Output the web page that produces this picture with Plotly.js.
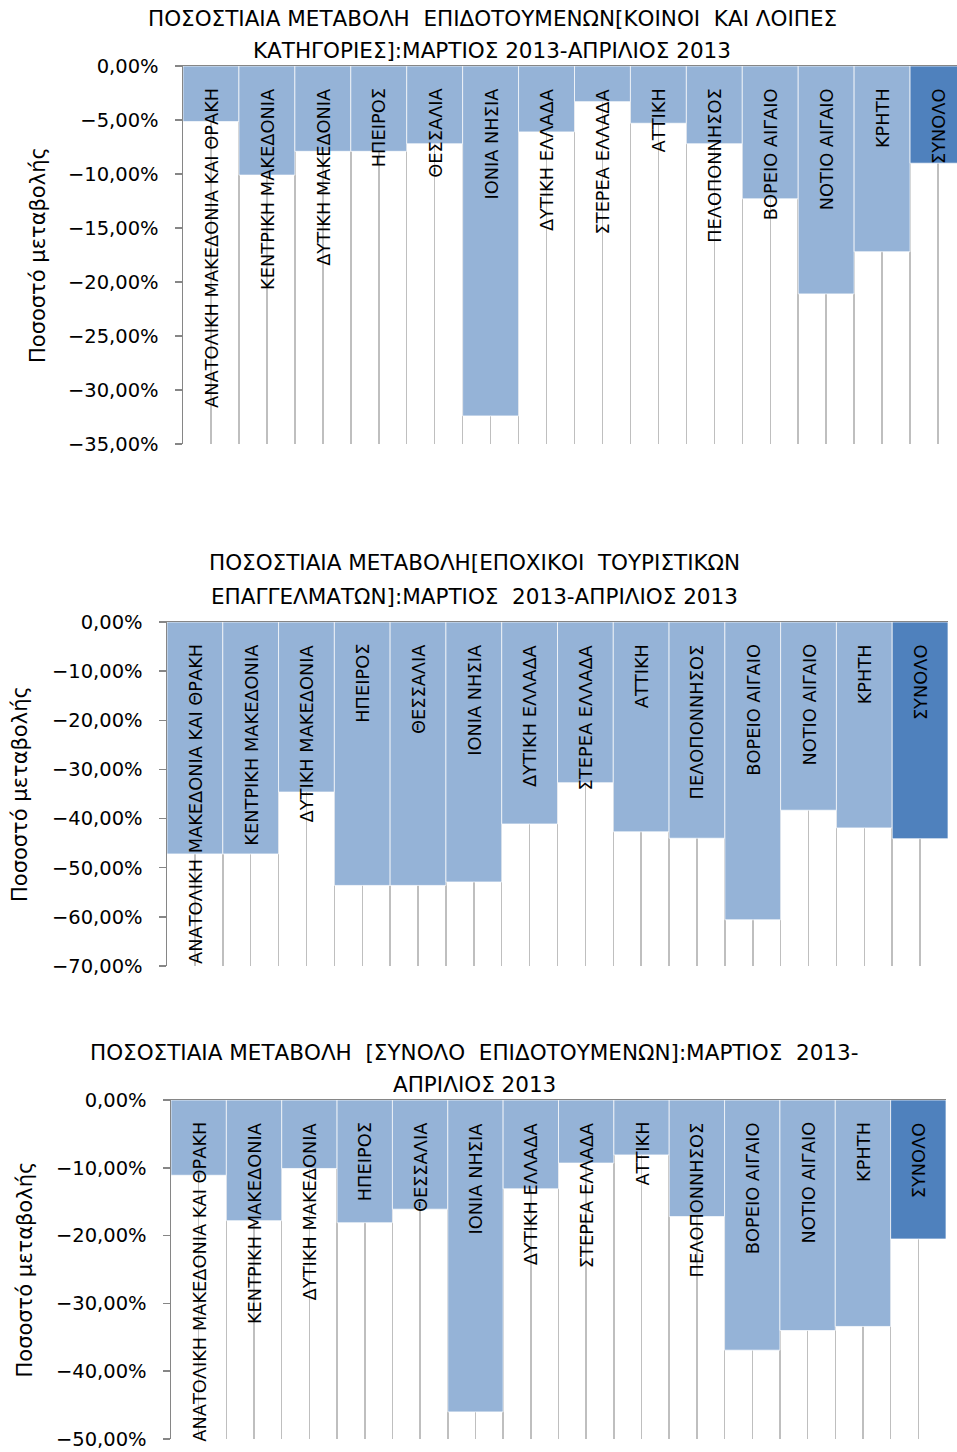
<!DOCTYPE html>
<html><head><meta charset="utf-8">
<script src="https://cdn.plot.ly/plotly-3.0.1.min.js"></script>
<style>
body{margin:0;background:#fff;width:957px;height:1452px;overflow:hidden;position:relative}
.c{position:absolute;left:0}
</style></head><body>
<div id="c1" class="c" style="top:0;width:985px;height:480px"></div>
<div id="c2" class="c" style="top:500px;width:957px;height:500px"></div>
<div id="c3" class="c" style="top:1000px;width:957px;height:452px"></div>
<script>
const categories = ['ΑΝΑΤΟΛΙΚΗ ΜΑΚΕΔΟΝΙΑ ΚΑΙ ΘΡΑΚΗ','ΚΕΝΤΡΙΚΗ ΜΑΚΕΔΟΝΙΑ','ΔΥΤΙΚΗ ΜΑΚΕΔΟΝΙΑ','ΗΠΕΙΡΟΣ','ΘΕΣΣΑΛΙΑ','ΙΟΝΙΑ ΝΗΣΙΑ','ΔΥΤΙΚΗ ΕΛΛΑΔΑ','ΣΤΕΡΕΑ ΕΛΛΑΔΑ','ΑΤΤΙΚΗ','ΠΕΛΟΠΟΝΝΗΣΟΣ','ΒΟΡΕΙΟ ΑΙΓΑΙΟ','ΝΟΤΙΟ ΑΙΓΑΙΟ','ΚΡΗΤΗ','ΣΥΝΟΛΟ'];
// percentage change (%)
const valuesRegular  = [-5.15,-10.1,-7.9,-7.9,-7.2,-32.4,-6.1,-3.3,-5.3,-7.2,-12.3,-21.1,-17.2,-9.0];
const valuesSeasonal = [-47.2,-47.2,-34.6,-53.6,-53.6,-52.9,-41.1,-32.7,-42.7,-44.0,-60.6,-38.3,-41.9,-44.1];
const valuesTotal    = [-11.1,-17.8,-10.1,-18.1,-16.1,-46.0,-13.1,-9.3,-8.1,-17.2,-36.9,-34.0,-33.4,-20.5];
const title1 = ['ΠΟΣΟΣΤΙΑΙΑ ΜΕΤΑΒΟΛΗ  ΕΠΙΔΟΤΟΥΜΕΝΩΝ[ΚΟΙΝΟΙ  ΚΑΙ ΛΟΙΠΕΣ','ΚΑΤΗΓΟΡΙΕΣ]:ΜΑΡΤΙΟΣ 2013-ΑΠΡΙΛΙΟΣ 2013'];
const title2 = ['ΠΟΣΟΣΤΙΑΙΑ ΜΕΤΑΒΟΛΗ[ΕΠΟΧΙΚΟΙ  ΤΟΥΡΙΣΤΙΚΩΝ','ΕΠΑΓΓΕΛΜΑΤΩΝ]:ΜΑΡΤΙΟΣ  2013-ΑΠΡΙΛΙΟΣ 2013'];
const title3 = ['ΠΟΣΟΣΤΙΑΙΑ ΜΕΤΑΒΟΛΗ  [ΣΥΝΟΛΟ  ΕΠΙΔΟΤΟΥΜΕΝΩΝ]:ΜΑΡΤΙΟΣ  2013-','ΑΠΡΙΛΙΟΣ 2013'];
const yTitle = 'Ποσοστό μεταβολής';

const FONT = 'DejaVu Sans, sans-serif';
const LIGHT = '#95B3D7', DARK = '#4F81BD';

function draw(id, vals, titleLines, cfg){
  const W = cfg.W, H = cfg.H, m = cfg.m;
  const pw = W - m.l - m.r, ph = H - m.t - m.b;
  const px2x = p => (p - m.l)/pw;
  const py2y = p => (H - m.b - p)/ph;
  const xs = categories.map((c,i)=>i);
  const colors = categories.map((c,i)=> i===categories.length-1 ? DARK : LIGHT);
  const ann = [];
  titleLines.forEach((t,k)=>{
    ann.push({text:t, xref:'paper', yref:'paper', x:px2x(cfg.titleX), y:py2y(cfg.titleY[k]),
      xanchor:'center', yanchor:'middle', showarrow:false, font:{family:FONT,size:cfg.titleSize,color:'#000'}});
  });
  categories.forEach((c,i)=>{
    ann.push({text:c, xref:'x', yref:'y', x:i, y:0, xanchor:'center', yanchor:'top', yshift:-20,
      textangle:-90, showarrow:false, font:{family:FONT,size:cfg.labelSize,color:'#000'}});
  });
  ann.push({text:yTitle, xref:'paper', yref:'paper', x:0, y:0.5, xshift:cfg.yTitleX - m.l,
    xanchor:'center', yanchor:'middle', textangle:-90, showarrow:false, font:{family:FONT,size:21,color:'#000'}});
  Plotly.newPlot(id, [{
    type:'bar', x:xs, y:vals, width:1, hovertext:categories,
    marker:{color:colors, line:{color:'rgba(255,255,255,0.7)', width:1}}
  }], {
    width:W, height:H, margin:m, paper_bgcolor:'#fff', plot_bgcolor:'#fff',
    separators:',.', showlegend:false, bargap:0,
    font:{family:FONT, color:'#000'},
    xaxis:{type:'linear', range:[-0.5, categories.length-0.5], tick0:-0.5, dtick:0.5,
      showgrid:true, gridcolor:'#BFBFBF', gridwidth:1.5, showticklabels:false, ticks:'',
      showline:true, linecolor:'#868686', linewidth:1.5, side:'top', zeroline:false, mirror:false},
    yaxis:{range:[cfg.yMin, 0], dtick:cfg.dtick, tick0:0, tickformat:'.2f', ticksuffix:'%',
      ticks:'outside', ticklen:7, tickcolor:'#868686', tickwidth:1.5, showline:true, linecolor:'#868686', linewidth:1.5,
      ticklabelstandoff:12,
      showgrid:false, zeroline:false, tickfont:{family:FONT,size:cfg.tickSize,color:'#000'}},
    annotations:ann
  }, {staticPlot:true});
}

draw('c1', valuesRegular, title1, {W:985, H:480, m:{l:183,r:19,t:66,b:36,pad:0},
  titleX:492, titleY:[19,50], titleSize:21.5, labelSize:17.8, tickSize:19.5, yTitleX:38, yMin:-35, dtick:5});
draw('c2', valuesSeasonal, title2, {W:957, H:500, m:{l:167,r:9,t:122,b:34,pad:0},
  titleX:474, titleY:[63,96], titleSize:21.5, labelSize:17.8, tickSize:19.5, yTitleX:20, yMin:-70, dtick:10});
draw('c3', valuesTotal, title3, {W:957, H:452, m:{l:171,r:11,t:100,b:13,pad:0},
  titleX:474, titleY:[53,85], titleSize:21.5, labelSize:17.8, tickSize:19.5, yTitleX:24, yMin:-50, dtick:10});
</script>
</body></html>
